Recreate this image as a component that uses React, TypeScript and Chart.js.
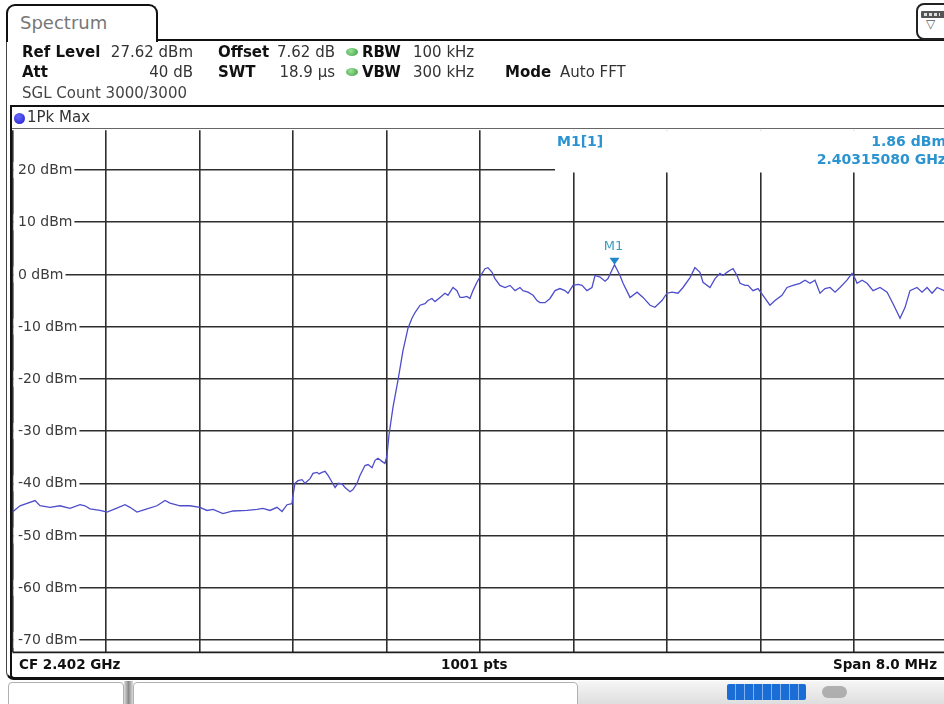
import React, { useEffect, useRef } from "react";
import { Chart, registerables } from "chart.js";

Chart.register(...registerables);

// ---- axis settings ----
const START_MHZ = 2398;
const SPAN_MHZ = 8;
const REF_LEVEL_DBM = 27.62;
const RANGE_DB = 100;
const Y_TICKS_DBM = [20, 10, 0, -10, -20, -30, -40, -50, -60, -70];

// ---- trace (1Pk Max), frequency offset from start (MHz) and level (dBm) ----
const FREQ_OFFSET_MHZ = [
  0.0, 0.064, 0.193, 0.235, 0.321, 0.406, 0.492, 0.578, 0.62, 0.663, 0.749, 0.809, 0.877, 0.963,
  1.005, 1.065, 1.151, 1.236, 1.305, 1.348, 1.433, 1.519, 1.604, 1.664, 1.716, 1.801, 1.887,
  2.007, 2.092, 2.143, 2.203, 2.263, 2.306, 2.349, 2.391, 2.4, 2.417, 2.443, 2.477, 2.503, 2.546,
  2.571, 2.606, 2.623, 2.648, 2.674, 2.7, 2.734, 2.76, 2.786, 2.819, 2.845, 2.888, 2.913, 2.948,
  2.973, 3.016, 3.042, 3.076, 3.102, 3.127, 3.161, 3.187, 3.204, 3.221, 3.255, 3.298, 3.341,
  3.384, 3.418, 3.444, 3.487, 3.529, 3.555, 3.589, 3.615, 3.658, 3.7, 3.726, 3.769, 3.803, 3.829,
  3.854, 3.889, 3.914, 3.94, 3.974, 4.017, 4.043, 4.068, 4.103, 4.128, 4.171, 4.214, 4.257, 4.3,
  4.342, 4.368, 4.411, 4.454, 4.488, 4.513, 4.556, 4.599, 4.642, 4.684, 4.727, 4.753, 4.796,
  4.839, 4.873, 4.915, 4.958, 4.984, 5.027, 5.07, 5.095, 5.151, 5.198, 5.224, 5.284, 5.344,
  5.395, 5.455, 5.497, 5.557, 5.6, 5.643, 5.694, 5.737, 5.797, 5.839, 5.882, 5.908, 5.968, 6.011,
  6.053, 6.079, 6.113, 6.139, 6.165, 6.199, 6.225, 6.267, 6.293, 6.336, 6.379, 6.421, 6.481,
  6.524, 6.584, 6.627, 6.678, 6.738, 6.781, 6.824, 6.866, 6.909, 6.952, 6.995, 7.038, 7.08, 7.14,
  7.183, 7.209, 7.226, 7.269, 7.312, 7.363, 7.423, 7.483, 7.534, 7.594, 7.637, 7.679, 7.739,
  7.782, 7.825, 7.868, 7.911, 7.97, 8.0,
];
const LEVEL_DBM = [
  -45.5, -44.3, -43.3, -44.3, -44.6, -44.3, -44.8, -44.1, -44.3, -44.9, -45.2, -45.5, -44.9, -44.1,
  -44.6, -45.5, -44.9, -44.3, -43.3, -43.8, -44.3, -44.3, -44.6, -45.2, -45.0, -45.8, -45.3,
  -45.2, -45.0, -44.8, -45.2, -44.6, -45.4, -44.1, -43.9, -42.3, -40.0, -39.5, -39.3, -40.0, -39.1,
  -38.1, -37.9, -38.2, -37.9, -37.7, -38.5, -39.8, -40.8, -40.0, -40.1, -40.8, -41.6, -41.2, -40.0,
  -38.5, -36.6, -36.4, -37.0, -35.6, -35.2, -35.8, -36.2, -34.7, -30.8, -25.5, -20.3, -14.6,
  -10.3, -8.4, -7.3, -5.9, -5.6, -5.0, -4.6, -5.2, -4.4, -3.6, -4.0, -2.5, -3.1, -4.4,
  -4.4, -4.2, -4.6, -3.1, -1.5, 0.2, 1.1, 1.3, 0.4, -0.8, -2.1, -2.5, -2.1, -3.1,
  -2.5, -3.1, -3.4, -4.0, -5.0, -5.4, -5.4, -4.6, -3.1, -2.7, -3.1, -3.6, -2.1,
  -1.9, -2.1, -3.1, -2.5, -0.2, -0.5, -1.3, -0.8, 1.86, -0.2, -1.7, -4.4, -3.4,
  -4.4, -5.9, -6.3, -5.0, -3.6, -3.4, -3.6, -2.5, -0.6, 1.3, 0.4, -1.5, -2.5, -0.8,
  0.2, -0.2, 0.4, 0.8, 1.1, -0.2, -1.7, -2.1, -2.1, -3.1, -2.7, -4.0, -5.9,
  -5.0, -4.0, -2.5, -2.1, -1.7, -1.1, -1.7, -1.1, -3.6, -2.7, -2.5, -3.4, -2.5, -1.1,
  0.2, -0.8, -1.7, -1.1, -1.7, -3.1, -2.5, -3.4, -5.6, -8.4, -6.3, -3.1, -2.5,
  -3.4, -2.5, -3.6, -2.5, -3.1, -3.0,
];

// ---- marker M1 ----
const MARKER_NAME = "M1";
const MARKER_FREQ_MHZ = 2403.1508;
const MARKER_LEVEL_DBM = 1.86;

const X_GRID_MHZ = Array.from({ length: 11 }, (_, i) => START_MHZ + (i * SPAN_MHZ) / 10);

const FONT = '"DejaVu Sans", Verdana, sans-serif';
const TRACE_COLOR = "#4d4dcc";
const MARKER_COLOR = "#2a93d0";

const overlayPlugin = {
  id: "saOverlay",
  beforeDatasetsDraw(chart: any) {
    const { ctx, chartArea: a, scales } = chart;
    const ys = scales.y;
    ctx.save();
    // marker info area covers the top right of the grid
    const y20 = ys.getPixelForValue(Y_TICKS_DBM[0]);
    ctx.fillStyle = "#ffffff";
    ctx.fillRect(555, a.top, chart.width - 555, y20 + 2.5 - a.top);
    // level labels inside the grid
    ctx.font = `14px ${FONT}`;
    ctx.textBaseline = "middle";
    ctx.textAlign = "left";
    for (const v of Y_TICKS_DBM) {
      const py = ys.getPixelForValue(v);
      const label = `${v} dBm`;
      const w = ctx.measureText(label).width;
      ctx.fillStyle = "#ffffff";
      ctx.fillRect(a.left + 1, py - 8, 18 - a.left - 1 + w + 2, 16);
      ctx.fillStyle = "#3c3c3c";
      ctx.fillText(label, 18, py + 0.5);
    }
    // bottom border of diagram
    ctx.strokeStyle = "#1e1e1e";
    ctx.lineWidth = 1.6;
    ctx.beginPath();
    ctx.moveTo(a.left, a.bottom);
    ctx.lineTo(chart.width, a.bottom);
    ctx.stroke();
    ctx.restore();
  },
  afterDatasetsDraw(chart: any) {
    const { ctx, scales, chartArea: a } = chart;
    const px = scales.x.getPixelForValue(MARKER_FREQ_MHZ);
    const py = scales.y.getPixelForValue(MARKER_LEVEL_DBM);
    ctx.save();
    // triangle
    ctx.fillStyle = "#1f86cc";
    ctx.beginPath();
    ctx.moveTo(px - 5, py - 7);
    ctx.lineTo(px + 5, py - 7);
    ctx.lineTo(px, py);
    ctx.closePath();
    ctx.fill();
    ctx.font = `13px ${FONT}`;
    ctx.fillStyle = "#3a9ec4";
    ctx.textAlign = "center";
    ctx.textBaseline = "middle";
    ctx.fillText(MARKER_NAME, px - 1, py - 18);
    // marker readout
    ctx.font = `bold 14px ${FONT}`;
    ctx.fillStyle = MARKER_COLOR;
    ctx.textAlign = "left";
    ctx.fillText(`${MARKER_NAME}[1]`, 557, a.top + 12);
    ctx.textAlign = "right";
    ctx.fillText(`${MARKER_LEVEL_DBM.toFixed(2)} dBm`, 946, a.top + 12);
    ctx.fillText(`${(MARKER_FREQ_MHZ / 1000).toFixed(8)} GHz`, 946, a.top + 30);
    ctx.restore();
  },
};

type TProps = {
  x: number;
  y: number;
  size?: number;
  bold?: boolean;
  color?: string;
  right?: boolean;
  children: React.ReactNode;
};

function T({ x, y, size = 15, bold = false, color = "#2a2a2a", right = false, children }: TProps) {
  const lh = 20;
  const style: React.CSSProperties = {
    position: "absolute",
    top: y - lh / 2,
    lineHeight: `${lh}px`,
    fontSize: size,
    fontWeight: bold ? 700 : 400,
    color,
    whiteSpace: "nowrap",
    fontFamily: FONT,
    zIndex: 4,
  };
  if (right) style.right = 944 - x;
  else style.left = x;
  return <span style={style}>{children}</span>;
}

function Dot({ x, y, w, h, bg }: { x: number; y: number; w: number; h: number; bg: string }) {
  return (
    <div
      style={{
        position: "absolute",
        left: x - w / 2,
        top: y - h / 2,
        width: w,
        height: h,
        borderRadius: "50%",
        background: bg,
        zIndex: 4,
      }}
    />
  );
}

export default function App() {
  const canvasRef = useRef<HTMLCanvasElement | null>(null);

  useEffect(() => {
    const canvas = canvasRef.current;
    if (!canvas) return;
    const points = FREQ_OFFSET_MHZ.map((o, i) => ({ x: START_MHZ + o, y: LEVEL_DBM[i] }));
    const chart = new Chart(canvas, {
      type: "line",
      data: {
        datasets: [
          {
            label: "1Pk Max",
            data: points,
            borderColor: TRACE_COLOR,
            borderWidth: 1.3,
            pointRadius: 0,
            tension: 0,
            fill: false,
          },
        ],
      },
      options: {
        animation: false,
        responsive: false,
        devicePixelRatio: 1,
        events: [],
        layout: { padding: { left: 12.5, right: 12.5, top: 130.2, bottom: 51.6 } },
        plugins: { legend: { display: false }, tooltip: { enabled: false } },
        scales: {
          x: {
            type: "linear",
            min: START_MHZ,
            max: START_MHZ + SPAN_MHZ,
            afterBuildTicks: (s: any) => {
              s.ticks = X_GRID_MHZ.map((value) => ({ value }));
            },
            ticks: { display: false },
            grid: { color: "#2e2e2e", lineWidth: 1.6, drawTicks: false },
            border: { display: false },
          },
          y: {
            type: "linear",
            min: REF_LEVEL_DBM - RANGE_DB,
            max: REF_LEVEL_DBM,
            afterBuildTicks: (s: any) => {
              s.ticks = Y_TICKS_DBM.map((value) => ({ value }));
            },
            ticks: { display: false },
            grid: { color: "#2e2e2e", lineWidth: 1.6, drawTicks: false },
            border: { display: false },
          },
        },
      },
      plugins: [overlayPlugin],
    } as any);
    return () => chart.destroy();
  }, []);

  const abs = (s: React.CSSProperties): React.CSSProperties => ({ position: "absolute", boxSizing: "border-box", ...s });

  return (
    <div
      style={{
        position: "fixed",
        left: 0,
        top: 0,
        width: 944,
        height: 704,
        overflow: "hidden",
        background: "#ffffff",
        fontFamily: FONT,
      }}
    >
      <canvas
        ref={canvasRef}
        width={960}
        height={704}
        style={{ position: "absolute", left: 0, top: 0, width: 960, height: 704, zIndex: 1 }}
      />
      {/* outer window frame */}
      <div style={abs({ left: 6, top: 39, width: 1000, height: 641, borderLeft: "1.5px solid #444", borderTop: "2px solid #111", borderBottom: "3px solid #111", borderBottomLeftRadius: 8, zIndex: 2 })} />
      {/* Spectrum tab */}
      <div style={abs({ left: 6, top: 4, width: 152, height: 38, border: "2px solid #111", borderBottom: "none", borderRadius: "9px 9px 0 0", background: "#fff", zIndex: 3 })} />
      <T x={20} y={23} size={18} color="#777">Spectrum</T>
      {/* top-right icon */}
      <div style={abs({ left: 916, top: 3, width: 40, height: 37, border: "2px solid #222", borderRadius: 8, background: "#fff", zIndex: 3 })}>
        <div style={abs({ left: 3, top: 6, width: 24, height: 7, background: "#555", borderRadius: 1 })} />
        <div style={abs({ left: 6, top: 8, width: 16, height: 3, background: "repeating-linear-gradient(90deg,#ddd 0 3px,#555 3px 5px)" })} />
        <span style={{ position: "absolute", left: 8, top: 12, fontSize: 12, lineHeight: "14px", color: "#555" }}>▽</span>
      </div>

      {/* header parameters */}
      <T x={22} y={52} bold color="#111">Ref Level</T>
      <T x={193} y={52} right color="#333">27.62 dBm</T>
      <T x={218} y={52} bold color="#111">Offset</T>
      <T x={335} y={52} right color="#333">7.62 dB</T>
      <Dot x={352} y={52} w={12} h={8} bg="radial-gradient(circle at 40% 35%, #9be29b, #3a9a3a)" />
      <T x={362} y={52} bold color="#111">RBW</T>
      <T x={413} y={52} color="#333">100 kHz</T>

      <T x={22} y={72} bold color="#111">Att</T>
      <T x={193} y={72} right color="#333">40 dB</T>
      <T x={218} y={72} bold color="#111">SWT</T>
      <T x={335} y={72} right color="#333">18.9 µs</T>
      <Dot x={352} y={72} w={12} h={8} bg="radial-gradient(circle at 40% 35%, #9be29b, #3a9a3a)" />
      <T x={362} y={72} bold color="#111">VBW</T>
      <T x={413} y={72} color="#333">300 kHz</T>
      <T x={505} y={72} bold color="#111">Mode</T>
      <T x={560} y={72} color="#333">Auto FFT</T>

      <T x={22} y={93} color="#444">SGL Count 3000/3000</T>

      {/* trace window frame */}
      <div style={abs({ left: 10, top: 105, width: 1000, height: 575, borderLeft: "2.5px solid #111", borderTop: "2px solid #111", borderBottom: "3px solid #111", borderBottomLeftRadius: 5, zIndex: 2 })} />
      <div style={abs({ left: 12, top: 127.5, width: 940, height: 1.5, background: "#666", zIndex: 2 })} />
      <Dot x={19} y={118} w={11} h={11} bg="radial-gradient(circle at 40% 35%, #6a6aff, #1a1ac8)" />
      <T x={27} y={117} color="#333">1Pk Max</T>

      {/* bottom info line */}
      <T x={19} y={664} size={13.5} bold color="#111">CF 2.402 GHz</T>
      <T x={441} y={664} size={13.5} bold color="#111">1001 pts</T>
      <T x={937} y={664} size={13.5} right bold color="#111">Span 8.0 MHz</T>

      {/* status bar */}
      <div style={abs({ left: 8, top: 682, width: 116, height: 30, border: "1.5px solid #b0b0b0", borderRadius: 4 })} />
      <div style={abs({ left: 124, top: 681, width: 9, height: 30, background: "linear-gradient(90deg,#ddd,#8a8a8a,#ddd)" })} />
      <div style={abs({ left: 133, top: 682, width: 445, height: 30, border: "1.5px solid #b0b0b0", borderRadius: 4 })} />
      <div style={abs({ left: 578, top: 681, width: 366, height: 23, background: "linear-gradient(#f6f6f6,#dedede)" })} />
      <div style={abs({ left: 727, top: 684, width: 79, height: 16, borderRadius: 2, background: "repeating-linear-gradient(90deg,#1b6dd6 0 8px,#7fb2ee 8px 9px)" })} />
      <div style={abs({ left: 822, top: 686, width: 25, height: 12, borderRadius: 6, background: "#a0a0a0", opacity: 0.8 })} />
    </div>
  );
}
